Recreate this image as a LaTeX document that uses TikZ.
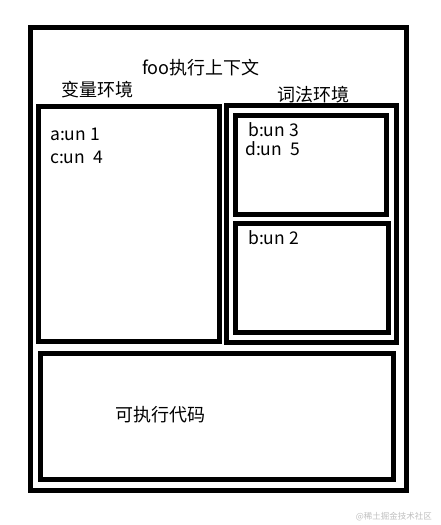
\documentclass[tikz,border=0pt]{standalone}
\usepackage{fontspec}
\setmainfont{Noto Sans CJK SC}
\usepackage{xcolor}
\usetikzlibrary{positioning}

\begin{document}
\begin{tikzpicture}[x=1pt, y=-1pt,
    box/.style={rectangle, draw, line width=5pt, inner sep=0pt},
    label/.style={inner sep=0pt, font=\fontsize{18}{20}\selectfont},
    entry/.style={label, anchor=west, font=\fontsize{17.5}{20}\selectfont}]

    \useasboundingbox (0,0) rectangle (440,525);

    % Execution context
    \node[box, minimum width=376pt, minimum height=462.5pt] (ctx) at (218,258.75) {};
    \node[label] (ctxname) at (201,67.5) {foo执行上下文};

    % Variable environment
    \node[box, minimum width=181pt, minimum height=235pt] (varenv) at (129,224) {};
    \node[label] (varname) at (97,90) {变量环境};
    \node[entry] (a) at (50,134.5) {a:un\ 1};
    \node[entry] (c) at (50,157.5) {c:un\ \ 4};

    % Lexical environment
    \node[box, minimum width=170pt, minimum height=237pt] (lexenv) at (311.5,224) {};
    \node[label] (lexname) at (313,94.5) {词法环境};
    \node[box, minimum width=151pt, minimum height=98.5pt] (block) at (311,164.75) {};
    \node[entry] (b3) at (248,130) {b:un 3};
    \node[entry] (d) at (245,148.5) {d:un\ \ 5};
    \node[box, minimum width=152.5pt, minimum height=109pt] (outer) at (311.75,278) {};
    \node[entry] (b2) at (248,238) {b:un 2};

    % Executable code
    \node[box, minimum width=353pt, minimum height=126pt] (code) at (217,416.5) {};
    \node[label] (codename) at (160,415) {可执行代码};

    % Watermark
    \node[inner sep=0pt, anchor=east, text=black!25, font=\fontsize{8.5}{10}\selectfont] (mark) at (432,517) {@稀土掘金技术社区};

\end{tikzpicture}
\end{document}
